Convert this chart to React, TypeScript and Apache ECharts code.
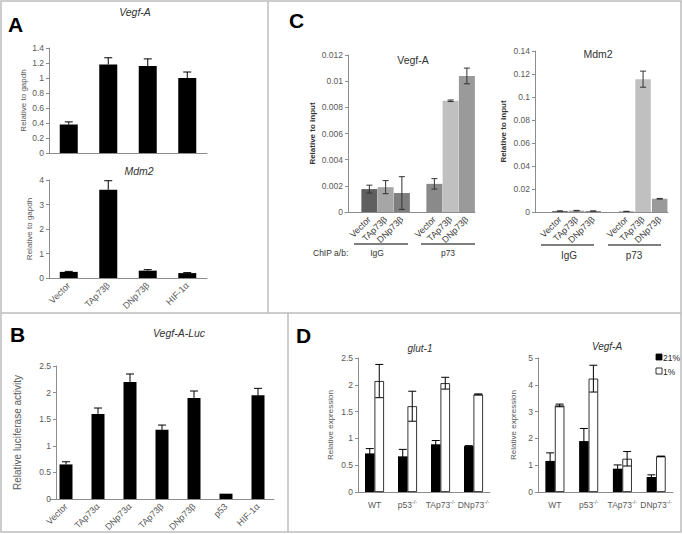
import React, { useEffect, useRef } from "react";
import * as echarts from "echarts";

// ---------- DATA ----------
const aCats = ["Vector", "TAp73β", "DNp73β", "HIF-1α"];
const aVegfVals = [0.38, 1.18, 1.16, 1.0];
const aVegfErr = [0.035, 0.09, 0.095, 0.08];
const aMdm2Vals = [0.25, 3.6, 0.3, 0.2];
const aMdm2Err = [0.02, 0.37, 0.04, 0.02];

const bCats = ["Vector", "TAp73α", "DNp73α", "TAp73β", "DNp73β", "p53", "HIF-1α"];
const bVals = [0.65, 1.6, 2.2, 1.3, 1.9, 0.1, 1.95];
const bErr = [0.05, 0.11, 0.15, 0.09, 0.13, 0, 0.13];

const cCats = ["", "Vector", "TAp73β", "DNp73β", "", "Vector", "TAp73β", "DNp73β"];
const cVegfVals = [null, 0.00175, 0.0019, 0.00145, null, 0.00215, 0.0085, 0.0104];
const cVegfErr = [null, 0.0003, 0.0005, 0.00125, null, 0.0004, 0.00006, 0.0006];
const cMdm2Vals = [null, 0.0008, 0.0012, 0.0008, null, 0.0005, 0.1155, 0.0115];
const cMdm2Err = [null, 0.0001, 0.0002, 0.0001, null, 0.0001, 0.007, 0.0003];
const cBarColors = [null, "#5f5f5f", "#a6a6a6", "#7f7f7f", null, "#8a8a8a", "#c0c0c0", "#9a9a9a"];
const cGroups = ["IgG", "p73"];

const dCats = ["WT", "p53-/-", "TAp73-/-", "DNp73-/-"];
const dSeriesNames = ["21%", "1%"];
const dGlutNorm = [0.72, 0.665, 0.89, 0.855];
const dGlutNormErr = [0.09, 0.13, 0.07, 0.01];
const dGlutHyp = [2.07, 1.6, 2.03, 1.82];
const dGlutHypErr = [0.31, 0.28, 0.11, 0.01];
const dVegfNorm = [1.16, 1.9, 0.87, 0.56];
const dVegfNormErr = [0.3, 0.47, 0.14, 0.08];
const dVegfHyp = [3.23, 4.23, 1.24, 1.33];
const dVegfHypErr = [0.05, 0.5, 0.27, 0.01];

// ---------- STYLE ----------
const FONT = "Liberation Sans";
const TXT = "#595959";
const AX = "#8c8c8c";
const BORDER = "#bdbdbd";

function makeY(gi: number, min: number, max: number, interval: number, name: string, nameGap: number, nameStyle: any = {}, offset = 0, labelSize = 8.5) {
  return {
    type: "value", gridIndex: gi, min, max, interval, offset,
    name, nameLocation: "middle", nameGap, nameRotate: 90,
    nameTextStyle: { fontFamily: FONT, fontSize: 8, color: TXT, ...nameStyle },
    axisLine: { show: true, lineStyle: { color: AX, width: 1 } },
    axisTick: { show: true, length: 3, lineStyle: { color: AX } },
    axisLabel: { fontFamily: FONT, fontSize: labelSize, color: TXT, margin: 5 },
    splitLine: { show: false },
  };
}

function makeX(gi: number, data: string[], label: any) {
  return {
    type: "category", gridIndex: gi, data,
    axisLine: { show: true, lineStyle: { color: AX, width: 1 } },
    axisTick: { show: false },
    axisLabel: label,
    splitLine: { show: false },
  };
}

const rotLabel = (size: number, color = TXT) => ({ show: true, rotate: 45, interval: 0, fontFamily: FONT, fontSize: size, color, margin: 6 });

function errSeries(gi: number, vals: (number | null)[], errs: (number | null)[], offsetPx: number, both: boolean, color: string, cap: number) {
  const data = vals.map((v, i) => [i, v, errs[i]]).filter((d) => d[1] != null && (d[2] as number) > 0);
  return {
    type: "custom", xAxisIndex: gi, yAxisIndex: gi, z: 10, silent: true,
    data,
    renderItem: (params: any, api: any) => {
      const i = api.value(0), v = api.value(1), e = api.value(2);
      const hi = api.coord([i, v + e]);
      const lo = api.coord([i, both ? v - e : v]);
      const x = hi[0] + offsetPx;
      const st = { stroke: color, lineWidth: 1 };
      const children: any[] = [
        { type: "line", shape: { x1: x, y1: lo[1], x2: x, y2: hi[1] }, style: st },
        { type: "line", shape: { x1: x - cap, y1: hi[1], x2: x + cap, y2: hi[1] }, style: st },
      ];
      if (both) children.push({ type: "line", shape: { x1: x - cap, y1: lo[1], x2: x + cap, y2: lo[1] }, style: st });
      return { type: "group", children };
    },
  };
}

const supFmt = (v: string) => (v.endsWith("-/-") ? `{n|${v.slice(0, -3)}}{s|-/-}` : `{n|${v}}`);
const dLabel = {
  show: true, interval: 0, margin: 7, color: TXT, fontFamily: FONT,
  formatter: supFmt,
  rich: {
    n: { fontFamily: FONT, fontSize: 8.5, color: TXT, lineHeight: 11 },
    s: { fontFamily: FONT, fontSize: 5.5, color: TXT, verticalAlign: "top", lineHeight: 7 },
  },
};

function txt(text: string, x: number, y: number, size: number, extra: any = {}) {
  return {
    type: "text", x, y, silent: true,
    style: { text, fontFamily: FONT, fontSize: size, fill: "#333", align: "center", verticalAlign: "middle", textAlign: "center", textVerticalAlign: "middle", ...extra },
  };
}
function ln(x1: number, y1: number, x2: number, y2: number, stroke: string, w: number) {
  return { type: "line", silent: true, shape: { x1, y1, x2, y2 }, style: { stroke, lineWidth: w } };
}

function buildOption() {
  const grid = [
    { left: 49, top: 48, width: 158, height: 105 },
    { left: 49, top: 180, width: 158, height: 98 },
    { left: 50, top: 366, width: 224, height: 133 },
    { left: 345, top: 55, width: 130, height: 157 },
    { left: 535, top: 51, width: 133, height: 161 },
    { left: 358, top: 358, width: 132, height: 134 },
    { left: 538, top: 358, width: 135, height: 134 },
  ];
  const xAxis = [
    makeX(0, aCats, { show: false }),
    makeX(1, aCats, rotLabel(9)),
    makeX(2, bCats, rotLabel(9)),
    makeX(3, cCats, rotLabel(9, "#404040")),
    makeX(4, cCats, rotLabel(9, "#404040")),
    makeX(5, dCats, dLabel),
    makeX(6, dCats, dLabel),
  ];
  const yAxis = [
    makeY(0, 0, 1.4, 0.2, "Relative to gapdh", 22),
    makeY(1, 0, 4, 1, "Relative to gapdh", 16),
    makeY(2, 0, 2.5, 0.5, "Relative luciferase activity", 34, { fontSize: 10 }, -6),
    makeY(3, 0, 0.012, 0.002, "Relative to input", 32, { fontWeight: "bold", color: "#333" }, -3),
    makeY(4, 0, 0.14, 0.02, "Relative to input", 28, { fontWeight: "bold", color: "#333" }),
    makeY(5, 0, 2.5, 0.5, "Relative expression", 24),
    makeY(6, 0, 5, 1, "Relative expression", 21),
  ];
  const bar = (gi: number, data: any[], w: number, extra: any = {}) => ({
    type: "bar", xAxisIndex: gi, yAxisIndex: gi, data, barWidth: w, itemStyle: { color: "#000" }, ...extra,
  });
  const cData = (vals: (number | null)[]) => vals.map((v, i) => (v == null ? null : { value: v, itemStyle: { color: cBarColors[i] } }));
  const hypStyle = { color: "#fff", borderColor: "#000", borderWidth: 0.8 };
  const DW = 9.5;
  const series: any[] = [
    bar(0, aVegfVals, 18), errSeries(0, aVegfVals, aVegfErr, 0, false, "#000", 4),
    bar(1, aMdm2Vals, 18), errSeries(1, aMdm2Vals, aMdm2Err, 0, false, "#000", 4),
    bar(2, bVals, 13), errSeries(2, bVals, bErr, 0, false, "#000", 4),
    bar(3, cData(cVegfVals), 16), errSeries(3, cVegfVals, cVegfErr, 0, true, "#333", 3),
    bar(4, cData(cMdm2Vals), 15.5), errSeries(4, cMdm2Vals, cMdm2Err, 0, true, "#333", 3),
    bar(5, dGlutNorm, DW, { name: dSeriesNames[0], barGap: "0%" }),
    bar(5, dGlutHyp, DW, { name: dSeriesNames[1], barGap: "0%", itemStyle: hypStyle }),
    errSeries(5, dGlutNorm, dGlutNormErr, -DW / 2, true, "#000", 4),
    errSeries(5, dGlutHyp, dGlutHypErr, DW / 2, true, "#000", 4),
    bar(6, dVegfNorm, DW, { name: dSeriesNames[0], barGap: "0%" }),
    bar(6, dVegfHyp, DW, { name: dSeriesNames[1], barGap: "0%", itemStyle: hypStyle }),
    errSeries(6, dVegfNorm, dVegfNormErr, -DW / 2, true, "#000", 4),
    errSeries(6, dVegfHyp, dVegfHypErr, DW / 2, true, "#000", 4),
  ];
  const letter = (t: string, x: number, y: number) => ({
    type: "text", x, y, silent: true,
    style: { text: t, fontFamily: FONT, fontSize: 21, fontWeight: "bold", fill: "#000", align: "left", verticalAlign: "top", textAlign: "left", textVerticalAlign: "top" },
  });
  const graphic: any[] = [
    { type: "rect", silent: true, shape: { x: 1, y: 1, width: 680, height: 531 }, style: { fill: "none", stroke: BORDER, lineWidth: 1.5 } },
    ln(268, 1, 268, 313, BORDER, 1.5),
    ln(1, 313, 681, 313, BORDER, 1.5),
    ln(288, 313, 288, 532, BORDER, 1.5),
    letter("A", 8, 14), letter("B", 10, 324), letter("C", 289, 10), letter("D", 296, 325),
    txt("Vegf-A", 135, 12, 10.5, { fontStyle: "italic" }),
    txt("Mdm2", 139, 171, 10.5, { fontStyle: "italic" }),
    txt("Vegf-A-Luc", 179, 333, 10.5, { fontStyle: "italic" }),
    txt("Vegf-A", 413, 60, 10.5),
    txt("Mdm2", 598, 54, 10.5),
    txt("glut-1", 420, 348, 10, { fontStyle: "italic" }),
    txt("Vegf-A", 607, 346, 10, { fontStyle: "italic" }),
    ln(354, 244, 408, 244, "#555", 1.5), ln(421, 244, 475, 244, "#555", 1.5),
    ln(541, 245, 594, 245, "#555", 1.5), ln(608, 245, 661, 245, "#555", 1.5),
    txt("ChIP a/b:", 313, 253, 8.5, { align: "left", textAlign: "left" }),
    txt(cGroups[0], 377, 253, 8.5), txt(cGroups[1], 448, 253, 8.5),
    txt(cGroups[0], 569, 255, 10), txt(cGroups[1], 634, 255, 10),
    { type: "rect", silent: true, shape: { x: 656, y: 354, width: 6, height: 6 }, style: { fill: "#000", stroke: "#000", lineWidth: 0.8 } },
    { type: "rect", silent: true, shape: { x: 656, y: 368, width: 6, height: 6 }, style: { fill: "#fff", stroke: "#000", lineWidth: 0.8 } },
    txt(dSeriesNames[0], 663, 357.5, 8.5, { align: "left", textAlign: "left", fill: "#222" }),
    txt(dSeriesNames[1], 663, 371.5, 8.5, { align: "left", textAlign: "left", fill: "#222" }),
  ];
  return { animation: false, backgroundColor: "#fff", grid, xAxis, yAxis, series, graphic };
}

export default function App() {
  const ref = useRef<HTMLDivElement>(null);
  useEffect(() => {
    const chart = echarts.init(ref.current!, null, { renderer: "svg" });
    chart.setOption(buildOption() as any);
    return () => chart.dispose();
  }, []);
  return <div ref={ref} style={{ position: "absolute", left: 0, top: 0, width: 682, height: 534, background: "#fff" }} />;
}
